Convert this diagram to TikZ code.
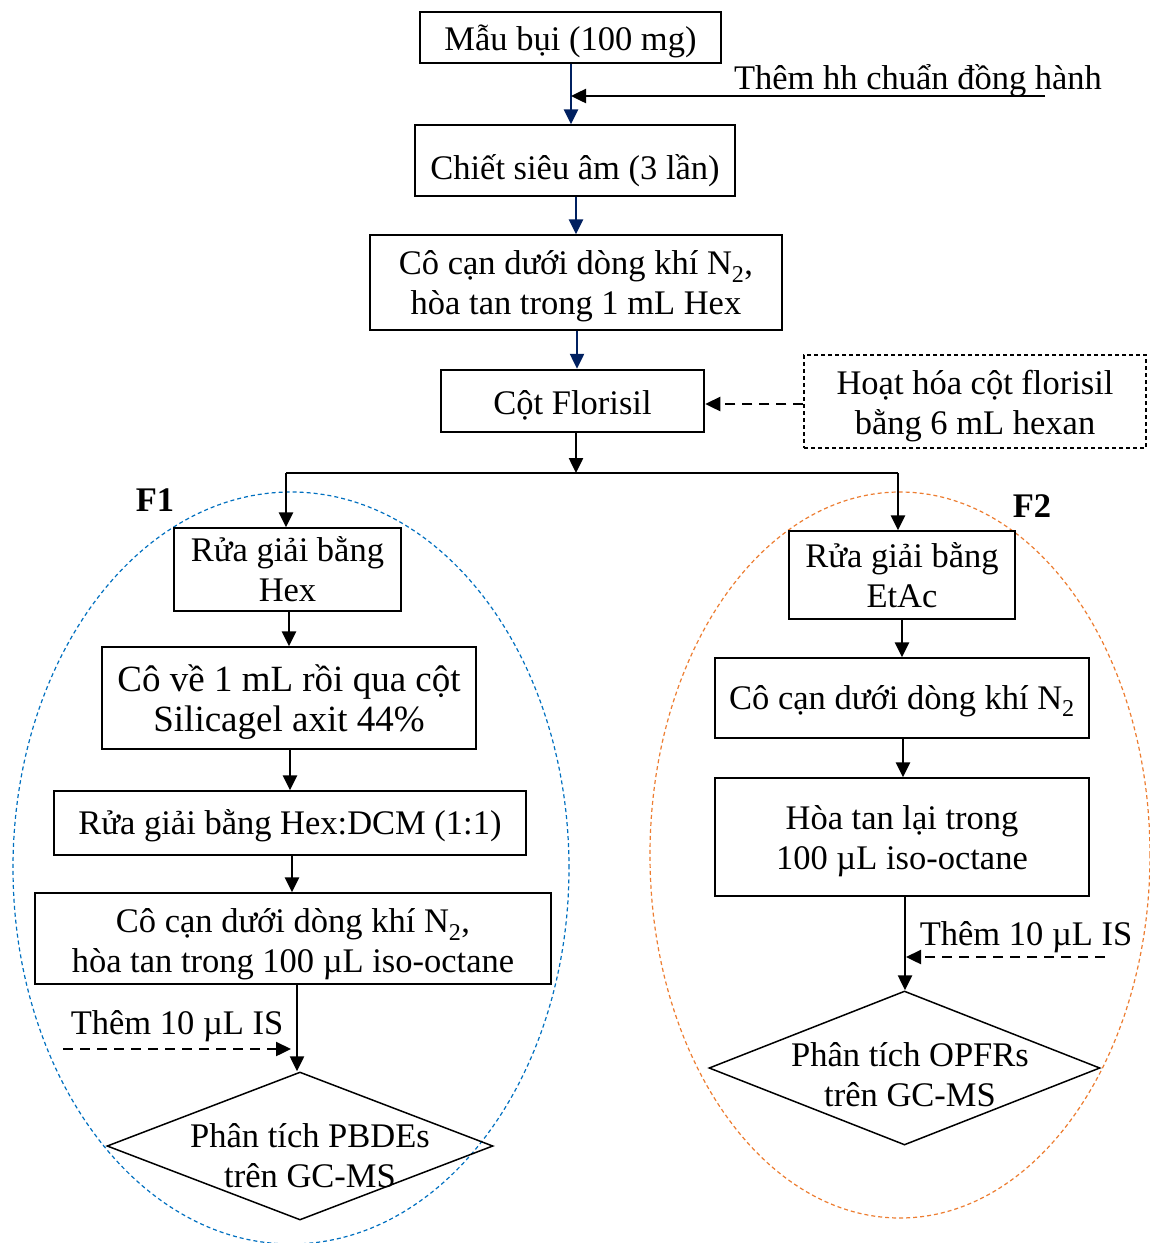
\documentclass[tikz,border=0pt]{standalone}
\usepackage{fontspec}
\setmainfont{Liberation Serif}
\usetikzlibrary{arrows.meta,shapes.geometric}
\definecolor{navy}{RGB}{0,32,96}
\definecolor{fblue}{RGB}{0,112,192}
\definecolor{forange}{RGB}{237,125,49}
\newcommand\bodysize{\fontsize{34.5}{40}\selectfont}
\newcommand\largesize{\fontsize{37}{40}\selectfont}

\begin{document}
\begin{tikzpicture}[x=1pt,y=-1pt,
  box/.style={draw,line width=1.3pt,inner sep=0pt},
  plain/.style={inner sep=0pt,align=center,font=\bodysize},
  rhomb/.style={draw,shape=diamond,line width=1.5pt,inner sep=0pt},
  tipped/.style={-{Triangle[length=15pt,width=14pt]}},
  flow/.style={tipped,line width=2.5pt},
  bflow/.style={flow,draw=navy},
  dflow/.style={tipped,line width=2.4pt,dash pattern=on 10pt off 7pt},
  ring/.style={line width=1.2pt,dash pattern=on 4pt off 3pt}]

\fill[white] (0,0) rectangle (1150,1243);
\useasboundingbox (0,0) rectangle (1150,1243);

% fraction outlines
\draw[ring,fblue]   (291,868) ellipse [x radius=278pt, y radius=376pt];
\draw[ring,forange] (900,855) ellipse [x radius=250pt, y radius=363pt];

% main trunk: frames
\node[box,minimum width=301,minimum height=51] (sample) at (570.5,37.5) {};
\node[box,minimum width=320,minimum height=71] (ultra) at (575,160.5) {};
\node[box,minimum width=412,minimum height=95] (evap) at (576,282.5) {};
\node[box,line width=2.5pt,minimum width=263,minimum height=62] (flor) at (572.5,401) {};
\node[box,dash pattern=on 4pt off 3pt,minimum width=342,minimum height=93] (act) at (975,401.5) {};
% main trunk: texts
\node[plain] (sampleT) at (570.5,41.5) {Mẫu bụi (100 mg)};
\node[plain] (ultraT) at (575,170.5) {Chiết siêu âm (3 lần)};
\node[plain] (evapT) at (576,286.5) {Cô cạn dưới dòng khí N\textsubscript{2},\\hòa tan trong 1 mL Hex};
\node[plain] (florT) at (572.5,405) {Cột Florisil};
\node[plain] (actT) at (975,406.5) {Hoạt hóa cột florisil\\bằng 6 mL hexan};
\node[plain] (surr) at (918,81) {Thêm hh chuẩn đồng hành};

\coordinate (surrA) at (1045,96);
\coordinate (surrB) at (571,96);

\draw[bflow] (sample.south -| 571,0) -- (ultra.north -| 571,0);
\draw[flow] (surrA) -- (surrB);
\draw[bflow] (ultra.south -| 576,0) -- (evap.north -| 576,0);
\draw[bflow] (evap.south -| 577,0) -- (flor.north -| 577,0);
\draw[dflow] (act.west |- 0,404) -- (flor.east |- 0,404);

% split into two fractions
\coordinate (split) at (576,473);
\coordinate (bl) at (286,473);
\coordinate (br) at (898,473);
\draw[flow] (flor.south -| split) -- (split);
\draw[line width=2.5pt] (bl) -- (br);

\node[font=\bodysize\bfseries] (f1) at (155,500) {F1};
\node[font=\bodysize\bfseries] (f2) at (1032,506) {F2};

% F1 branch
\node[box,minimum width=227,minimum height=83] (l1) at (287.5,569.5) {};
\node[box,minimum width=374,minimum height=102] (l2) at (289,698) {};
\node[box,minimum width=472,minimum height=64] (l3) at (290,823) {};
\node[box,minimum width=516,minimum height=91] (l4) at (293,938.5) {};
\node[rhomb,minimum width=386,minimum height=148] (dl) at (300,1146) {};
\node[plain] (l1T) at (287.5,569.5) {Rửa giải bằng\\Hex};
\node[plain,font=\largesize] (l2T) at (289,702) {Cô về 1 mL rồi qua cột\\Silicagel axit 44\%};
\node[plain] (l3T) at (290,826) {Rửa giải bằng Hex:DCM (1:1)};
\node[plain] (l4T) at (293,944.5) {Cô cạn dưới dòng khí N\textsubscript{2},\\hòa tan trong 100 µL iso-octane};
\node[plain] (isl) at (177,1026) {Thêm 10 µL IS};
\node[plain] (dlT) at (310,1156) {Phân tích PBDEs\\trên GC-MS};
\coordinate (islA) at (63,1049);
\coordinate (islB) at (291,1049);

\draw[flow] (bl) -- (bl |- l1.north);
\draw[flow] (l1.south -| 289,0) -- (l2.north -| 289,0);
\draw[flow] (l2.south -| 290,0) -- (l3.north -| 290,0);
\draw[flow] (l3.south -| 292,0) -- (l4.north -| 292,0);
\draw[flow] (l4.south -| 297,0) -- (dl.north -| 297,0);
\draw[dflow] (islA) -- (islB);

% F2 branch
\node[box,minimum width=226,minimum height=88] (r1) at (902,575) {};
\node[box,minimum width=374,minimum height=80] (r2) at (902,698) {};
\node[box,minimum width=374,minimum height=118] (r3) at (902,837) {};
\node[rhomb,minimum width=391,minimum height=154] (dr) at (904.5,1068) {};
\node[plain] (r1T) at (902,575) {Rửa giải bằng\\EtAc};
\node[plain] (r2T) at (902,701) {Cô cạn dưới dòng khí N\textsubscript{2}};
\node[plain] (r3T) at (902,841) {Hòa tan lại trong\\100 µL iso-octane};
\node[plain] (isr) at (1026,937) {Thêm 10 µL IS};
\node[plain] (drT) at (910,1075) {Phân tích OPFRs\\trên GC-MS};
\coordinate (isrA) at (1105,957);
\coordinate (isrB) at (906,957);

\draw[flow] (br) -- (br |- r1.north);
\draw[flow] (r1.south -| 902,0) -- (r2.north -| 902,0);
\draw[flow] (r2.south -| 903,0) -- (r3.north -| 903,0);
\draw[flow] (r3.south -| 905,0) -- (dr.north -| 905,0);
\draw[dflow] (isrA) -- (isrB);
\end{tikzpicture}
\end{document}
